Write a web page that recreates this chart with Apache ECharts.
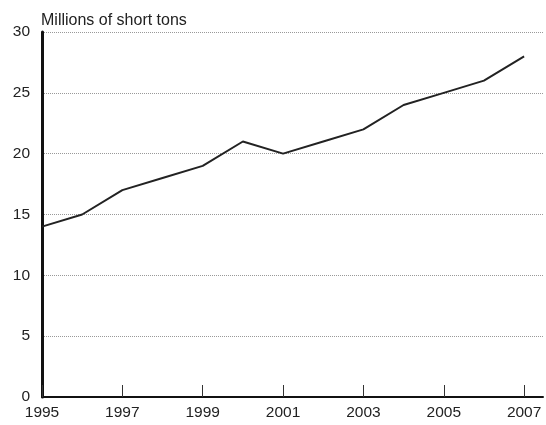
<!DOCTYPE html>
<html><head><meta charset="utf-8">
<script src="https://cdn.jsdelivr.net/npm/echarts@6/dist/echarts.min.js"></script>
<style>html,body{margin:0;padding:0;background:#fff}#c{width:546px;height:425px}</style>
</head><body><div id="c"></div>
<script>
const years = [1995,1996,1997,1998,1999,2000,2001,2002,2003,2004,2005,2006,2007];
const values = [14,15,17,18,19,21,20,21,22,24,25,26,28];
const xTickYears = [1995,1997,1999,2001,2003,2005,2007];
const yUnit = 'Millions of short tons';

const chart = echarts.init(document.getElementById('c'), null, {renderer:'canvas'});
const font = 'Liberation Sans, Arial, Helvetica, sans-serif';
chart.setOption({
  animation:false,
  grid:{left:42, right:3, top:32, bottom:28, containLabel:false},
  title:{text:yUnit, left:36, top:8, textStyle:{fontFamily:font, fontSize:16, fontWeight:'normal', color:'#222'}},
  xAxis:{
    type:'value', min:1995, max:2007.47,
    axisLine:{show:true, lineStyle:{color:'#111', width:2}},
    axisTick:{show:true, inside:true, length:12, customValues:xTickYears, lineStyle:{color:'#333', width:1}},
    axisLabel:{customValues:xTickYears, fontFamily:font, fontSize:15.5, color:'#222', margin:8, formatter:v=>String(v)},
    splitLine:{show:false}
  },
  yAxis:{
    type:'value', min:0, max:30, interval:5,
    axisLine:{show:true, lineStyle:{color:'#111', width:3}},
    axisTick:{show:false},
    axisLabel:{fontFamily:font, fontSize:15.5, color:'#222', margin:12},
    splitLine:{show:true, lineStyle:{color:'#999', type:[1,1], width:1}}
  },
  series:[{
    type:'line', data:years.map((y,i)=>[y, values[i]]),
    symbol:'none', lineStyle:{color:'#222', width:2}
  }]
});
</script></body></html>
